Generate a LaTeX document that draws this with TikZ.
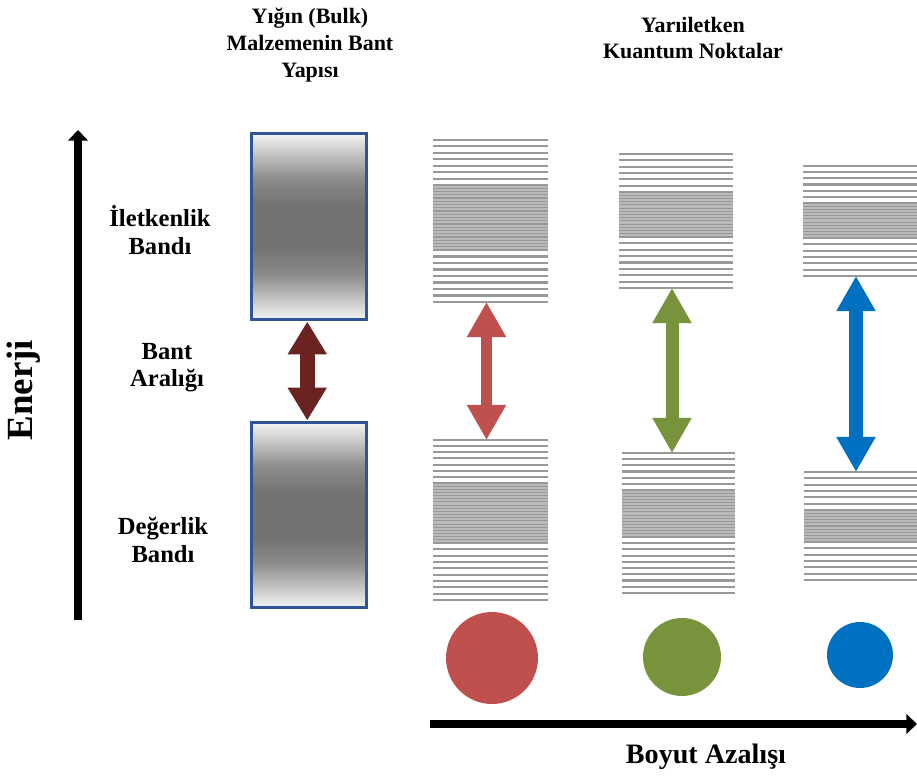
\documentclass[tikz,border=0pt]{standalone}
\usepackage{fontspec}
\setmainfont{Liberation Serif}
\usetikzlibrary{arrows.meta}

\definecolor{boxblue}{HTML}{2F5597}
\definecolor{gapred}{HTML}{6A2321}
\definecolor{qdred}{HTML}{C0504D}
\definecolor{qdgreen}{HTML}{77933C}
\definecolor{qdblue}{HTML}{0070C0}

\pgfdeclareverticalshading{bulkshade}{100bp}{color(0bp)=(black!4); color(25bp)=(black!4);
  color(37bp)=(black!45); color(44bp)=(black!55); color(56bp)=(black!55); color(63bp)=(black!45);
  color(75bp)=(black!4); color(100bp)=(black!4)}

\tikzset{
  lbl/.style={font=\bfseries\fontsize{14}{15.5}\selectfont, align=center},
  ttl/.style={font=\bfseries\fontsize{12.5}{15.3}\selectfont, align=center},
  bulkbox/.style={draw=boxblue, line width=1.7pt, shading=bulkshade, minimum width=2.3cm, inner sep=0pt},
  qdline/.style={draw=black!40, line width=1.2pt},
  densefill/.style={fill=black!27},
  denseline/.style={draw=black!40, line width=0.6pt},
  fatarrow/.style={draw=#1, line width=7pt, {Triangle[length=20pt,width=21pt]}-{Triangle[length=20pt,width=21pt]}},
  dot/.style={circle, inner sep=0pt, fill=#1},
  axisarrow/.style={line width=4.5pt, -{Triangle[length=6pt,width=11pt]}}
}

% name, x1, x2, top, dense top, dense bottom, bottom
\newcommand{\qdband}[7]{%
  \pgfmathtruncatemacro{\qdnA}{round((#5-#4)/6.5)}
  \pgfmathsetmacro{\qdsA}{(#5-#4)/\qdnA}
  \foreach \i in {1,...,\qdnA}
    \draw[qdline] (#2,{#4+(\i-1)*\qdsA}) -- (#3,{#4+(\i-1)*\qdsA});
  \fill[densefill] (#2,#5) rectangle (#3,#6);
  \pgfmathtruncatemacro{\qdnD}{round((#6-#5)/3.2)}
  \foreach \i in {0,...,\qdnD}
    \draw[denseline] (#2,{#5+\i*(#6-#5)/\qdnD}) -- (#3,{#5+\i*(#6-#5)/\qdnD});
  \pgfmathtruncatemacro{\qdnB}{round((#7-#6)/6.5)}
  \pgfmathsetmacro{\qdsB}{(#7-#6)/\qdnB}
  \foreach \i in {1,...,\qdnB}
    \draw[qdline] (#2,{#6+\i*\qdsB}) -- (#3,{#6+\i*\qdsB});
  \coordinate (#1-top) at ({(#2+#3)/2-4},#4);
  \coordinate (#1-bot) at ({(#2+#3)/2-4},#7);
}

\begin{document}
\begin{tikzpicture}[x=0.02cm,y=-0.02cm]
    \useasboundingbox (0,0) rectangle (917,776);

    % titles
    \node[ttl] (bulktitle) at (310,45) {Yığın (Bulk)\\Malzemenin Bant\\Yapısı};
    \node[ttl] (qdtitle) at (693,38) {Yarıiletken\\Kuantum Noktalar};

    % energy axis
    \coordinate (ebot) at (78,620);
    \coordinate (etop) at (78,130);
    \draw[axisarrow] (ebot) -- (etop);
    \node[rotate=90, font=\bfseries\fontsize{21}{24}\selectfont] (enerji) at (24,390) {Enerji};

    \node[lbl] (cblbl) at (160,230) {İletkenlik\\Bandı};
    \node[lbl] (gaplbl) at (167,368) {Bant\\Aralığı};
    \node[lbl] (vblbl) at (163,540) {Değerlik\\Bandı};

    % bulk band structure
    \node[bulkbox, minimum height=3.74cm] (cband) at (309,226.5) {};
    \node[bulkbox, minimum height=3.72cm] (vband) at (309,515) {};
    \draw[draw=gapred, line width=8.5pt, {Triangle[length=18.7pt,width=21pt]}-{Triangle[length=18.7pt,width=21pt]}]
        ([xshift=-1pt]cband.south) -- ([xshift=-1pt]vband.north);

    % quantum dot levels
    \qdband{ru}{433}{548}{140}{185}{250}{302}
    \qdband{rl}{433}{548}{440}{483}{543}{600}
    \qdband{gu}{619}{733}{154}{192}{237}{288}
    \qdband{gl}{622}{735}{453}{490}{537}{593}
    \qdband{bu}{803}{917}{166}{203}{238}{276}
    \qdband{bl}{804}{917}{472}{510}{542}{580}

    \draw[fatarrow=qdred, line width=6.8pt] (ru-bot) -- (ru-bot |- rl-top);
    \draw[fatarrow=qdgreen, line width=7.4pt] (gu-bot) -- (gu-bot |- gl-top);
    \draw[fatarrow=qdblue, line width=7.9pt] (bu-bot) -- (bu-bot |- bl-top);

    % dots
    \node[dot=qdred, minimum size=1.84cm] (rdot) at (492,658) {};
    \node[dot=qdgreen, minimum size=1.56cm] (gdot) at (682,657) {};
    \node[dot=qdblue, minimum size=1.32cm] (bdot) at (860,655) {};

    % size axis
    \coordinate (sleft) at (430,724);
    \coordinate (sright) at (917,724);
    \draw[axisarrow] (sleft) -- (sright);
    \node[font=\bfseries\fontsize{16}{18}\selectfont] (boyut) at (706,757) {Boyut Azalışı};
\end{tikzpicture}
\end{document}
